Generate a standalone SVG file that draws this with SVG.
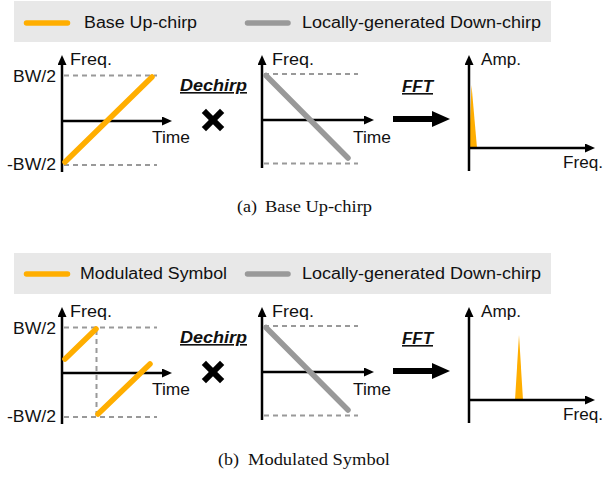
<svg xmlns="http://www.w3.org/2000/svg" width="603" height="477" viewBox="0 0 603 477">
<style>
.t{font-family:"Liberation Sans",Arial,sans-serif;font-size:16px;fill:#111}
.op{font-weight:bold;font-style:italic;text-decoration:underline}
.cap{font-family:"Liberation Serif","Times New Roman",serif;font-size:16px;fill:#111}
.legbox{fill:#e8e8e8}
.ax{stroke:#000;stroke-width:2.5;fill:none}
.dash{stroke:#999;stroke-width:2;stroke-dasharray:5 4;fill:none}
.or{stroke:#ffae00;stroke-width:5.5;stroke-linecap:round;fill:none}
.gr{stroke:#999;stroke-width:5.5;stroke-linecap:round;fill:none}
.peak{fill:#ffae00}
.x{stroke:#000;stroke-width:6;stroke-linecap:square}
</style>
<defs>
<marker id="ah" markerUnits="userSpaceOnUse" markerWidth="10" markerHeight="9" refX="0" refY="4.5" orient="auto">
<path d="M0,0 L10,4.5 L0,9 z" fill="#000"/>
</marker>
<marker id="bigah" markerUnits="userSpaceOnUse" markerWidth="18" markerHeight="16" refX="0" refY="8" orient="auto">
<path d="M0,0 L18,8 L0,16 z" fill="#000"/>
</marker>
</defs>

<!-- ===== Panel (a) ===== -->
<g id="legend-a">
<rect class="legbox" x="14" y="1" width="537" height="41"/>
<line class="or" x1="26.5" y1="23" x2="67.5" y2="23"/>
<text class="t" x="84" y="28" textLength="113" lengthAdjust="spacingAndGlyphs">Base Up-chirp</text>
<line class="gr" x1="247.5" y1="23" x2="288" y2="23"/>
<text class="t" x="302" y="28" textLength="239" lengthAdjust="spacingAndGlyphs">Locally-generated Down-chirp</text>
</g>

<g id="chart-a-upchirp">
<line class="dash" x1="64" y1="75.5" x2="157" y2="75.5"/>
<line class="dash" x1="64" y1="165" x2="157" y2="165"/>
<line class="ax" x1="62" y1="172" x2="62" y2="65" marker-end="url(#ah)"/>
<line class="ax" x1="62" y1="121" x2="162" y2="121" marker-end="url(#ah)"/>
<line class="or" x1="65" y1="162" x2="152" y2="77"/>
<text class="t" x="70" y="65" textLength="42" lengthAdjust="spacingAndGlyphs">Freq.</text>
<text class="t" x="13" y="82" textLength="43" lengthAdjust="spacingAndGlyphs">BW/2</text>
<text class="t" x="7" y="170" textLength="49" lengthAdjust="spacingAndGlyphs">-BW/2</text>
<text class="t" x="152" y="143" textLength="38" lengthAdjust="spacingAndGlyphs">Time</text>
</g>

<g id="op-dechirp-a">
<text class="t op" x="180" y="91" textLength="67" lengthAdjust="spacingAndGlyphs">Dechirp</text>
<line class="x" x1="206" y1="113" x2="220" y2="127"/>
<line class="x" x1="206" y1="127" x2="220" y2="113"/>
</g>

<g id="chart-a-downchirp">
<line class="dash" x1="264" y1="74" x2="358" y2="74"/>
<line class="dash" x1="264" y1="163.5" x2="358" y2="163.5"/>
<line class="ax" x1="262" y1="168" x2="262" y2="65" marker-end="url(#ah)"/>
<line class="ax" x1="262" y1="120" x2="364" y2="120" marker-end="url(#ah)"/>
<line class="gr" x1="266" y1="75.5" x2="348" y2="158"/>
<text class="t" x="272" y="65" textLength="42" lengthAdjust="spacingAndGlyphs">Freq.</text>
<text class="t" x="353" y="143" textLength="38" lengthAdjust="spacingAndGlyphs">Time</text>
</g>

<g id="op-fft-a">
<text class="t op" x="402" y="92" textLength="31" lengthAdjust="spacingAndGlyphs">FFT</text>
</g>

<g id="chart-a-spectrum">
<polygon class="peak" points="469,148 471.5,85 477,148"/>
<line class="ax" x1="469" y1="171" x2="469" y2="65" marker-end="url(#ah)"/>
<line class="ax" x1="469" y1="148" x2="585" y2="148" marker-end="url(#ah)"/>
<text class="t" x="481" y="65" textLength="40" lengthAdjust="spacingAndGlyphs">Amp.</text>
<text class="t" x="563" y="168" textLength="40" lengthAdjust="spacingAndGlyphs">Freq.</text>
</g>

<g id="caption-a">
<text class="cap" x="237" y="212" textLength="20" lengthAdjust="spacingAndGlyphs">(a)</text>
<text class="cap" x="265" y="212" textLength="107" lengthAdjust="spacingAndGlyphs">Base Up-chirp</text>
</g>

<!-- ===== Panel (b) ===== -->
<g id="legend-b">
<rect class="legbox" x="14" y="253" width="537" height="41"/>
<line class="or" x1="26.5" y1="274" x2="67.5" y2="274"/>
<text class="t" x="80" y="279" textLength="147" lengthAdjust="spacingAndGlyphs">Modulated Symbol</text>
<line class="gr" x1="247.5" y1="274" x2="288" y2="274"/>
<text class="t" x="302" y="279" textLength="239" lengthAdjust="spacingAndGlyphs">Locally-generated Down-chirp</text>
</g>

<g id="chart-b-symbol">
<line class="dash" x1="64" y1="327.5" x2="157" y2="327.5"/>
<line class="dash" x1="64" y1="417" x2="157" y2="417"/>
<line class="dash" x1="96.5" y1="330" x2="96.5" y2="417"/>
<line class="ax" x1="62" y1="424" x2="62" y2="317" marker-end="url(#ah)"/>
<line class="ax" x1="62" y1="373" x2="162" y2="373" marker-end="url(#ah)"/>
<line class="or" x1="65" y1="359" x2="96" y2="329"/>
<line class="or" x1="98" y1="414" x2="150" y2="364"/>
<text class="t" x="70" y="317" textLength="42" lengthAdjust="spacingAndGlyphs">Freq.</text>
<text class="t" x="13" y="334" textLength="43" lengthAdjust="spacingAndGlyphs">BW/2</text>
<text class="t" x="7" y="422" textLength="49" lengthAdjust="spacingAndGlyphs">-BW/2</text>
<text class="t" x="152" y="395" textLength="38" lengthAdjust="spacingAndGlyphs">Time</text>
</g>

<g id="op-dechirp-b">
<text class="t op" x="180" y="343" textLength="67" lengthAdjust="spacingAndGlyphs">Dechirp</text>
<line class="x" x1="206" y1="365" x2="220" y2="379"/>
<line class="x" x1="206" y1="379" x2="220" y2="365"/>
</g>

<g id="chart-b-downchirp">
<line class="dash" x1="264" y1="326" x2="358" y2="326"/>
<line class="dash" x1="264" y1="415.5" x2="358" y2="415.5"/>
<line class="ax" x1="262" y1="420" x2="262" y2="317" marker-end="url(#ah)"/>
<line class="ax" x1="262" y1="372" x2="364" y2="372" marker-end="url(#ah)"/>
<line class="gr" x1="266" y1="327.5" x2="348" y2="410"/>
<text class="t" x="272" y="317" textLength="42" lengthAdjust="spacingAndGlyphs">Freq.</text>
<text class="t" x="353" y="395" textLength="38" lengthAdjust="spacingAndGlyphs">Time</text>
</g>

<g id="op-fft-b">
<text class="t op" x="402" y="344" textLength="31" lengthAdjust="spacingAndGlyphs">FFT</text>
</g>

<g id="chart-b-spectrum">
<polygon class="peak" points="515,400 519,335 523,400"/>
<line class="ax" x1="469" y1="423" x2="469" y2="317" marker-end="url(#ah)"/>
<line class="ax" x1="469" y1="400" x2="585" y2="400" marker-end="url(#ah)"/>
<text class="t" x="481" y="317" textLength="40" lengthAdjust="spacingAndGlyphs">Amp.</text>
<text class="t" x="563" y="420" textLength="40" lengthAdjust="spacingAndGlyphs">Freq.</text>
</g>

<g id="caption-b">
<text class="cap" x="218" y="465" textLength="21" lengthAdjust="spacingAndGlyphs">(b)</text>
<text class="cap" x="248" y="465" textLength="142" lengthAdjust="spacingAndGlyphs">Modulated Symbol</text>
</g>

<g id="connectors">
<line x1="393" y1="119" x2="432" y2="119" stroke="#000" stroke-width="6" marker-end="url(#bigah)"/>
<line x1="393" y1="371" x2="432" y2="371" stroke="#000" stroke-width="6" marker-end="url(#bigah)"/>
</g>
</svg>
